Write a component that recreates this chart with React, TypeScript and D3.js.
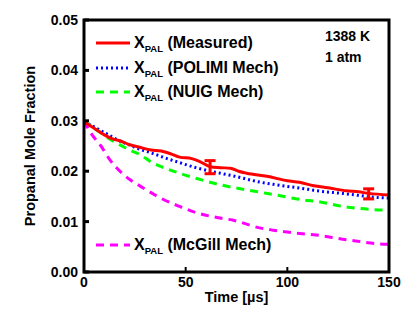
import * as d3 from "d3";

// measured propanal mole fraction
const measT = [0, 5, 10, 14, 18, 22, 27, 33, 38, 43, 47, 53, 57, 62, 67, 72, 76, 80, 90, 100, 106, 113, 120, 129, 135, 140, 150];
const measX = [0.0298, 0.0285, 0.0272, 0.0264, 0.026, 0.0253, 0.0248, 0.0242, 0.024, 0.0234, 0.0228, 0.0225, 0.0219, 0.0209, 0.0207, 0.0206, 0.02, 0.0196, 0.019, 0.0181, 0.0178, 0.0171, 0.0167, 0.0161, 0.0159, 0.0156, 0.0153];

const errT = [62, 140];
const errX = [0.0208, 0.0155];
const errD = [0.0013, 0.001];

const simT = [0, 4, 8, 13, 16, 23, 27, 34, 38, 47, 55, 67, 73, 87, 93, 110, 113, 129, 131, 149, 150];
const polimiX = [0.0299, 0.029, 0.0281, 0.027, 0.0263, 0.0251, 0.0244, 0.0235, 0.0229, 0.0217, 0.0207, 0.0196, 0.0191, 0.0178, 0.0174, 0.0164, 0.0162, 0.0155, 0.0154, 0.0147, 0.0147];
const nuigX = [0.0299, 0.0288, 0.0277, 0.0263, 0.0256, 0.0241, 0.0234, 0.0216, 0.0209, 0.0196, 0.0186, 0.0173, 0.0168, 0.0158, 0.0154, 0.0142, 0.0141, 0.0129, 0.0128, 0.0123, 0.0123];
const mcgillX = [0.0299, 0.0272, 0.0252, 0.0221, 0.0207, 0.0182, 0.0172, 0.0155, 0.0146, 0.013, 0.0118, 0.0107, 0.0103, 0.0087, 0.0083, 0.0075, 0.0074, 0.0064, 0.0063, 0.0055, 0.0055];

const xTicks = [0, 50, 100, 150];
const yTicks = [0, 0.01, 0.02, 0.03, 0.04, 0.05];

const legendNames = ["(Measured)", "(POLIMI Mech)", "(NUIG Mech)"];

const font = "'Liberation Sans', Arial, sans-serif";

export default function App() {
  const W = 410, H = 325;
  const left = 84, right = 389, top = 20, bottom = 272;
  const x = d3.scaleLinear().domain([0, 150]).range([left, right]);
  const y = d3.scaleLinear().domain([0, 0.05]).range([bottom, top]);

  const line = (ts: number[], vs: number[]) =>
    d3.line<number>().x((_, i) => x(ts[i])).y((v) => y(v)).curve(d3.curveMonotoneX)(vs) || "";

  const series = [
    { vs: polimiX, color: "#0000ff", dash: "2,3" },
    { vs: nuigX, color: "#00ff00", dash: "8,6" },
    { vs: mcgillX, color: "#ff00ff", dash: "8,6" },
  ];

  const legendStyle = [
    { color: "#ff0000", dash: "none" },
    { color: "#0000ff", dash: "2,3" },
    { color: "#00ff00", dash: "8,6" },
  ];
  const legendY = [43, 68, 92];

  const label = (ly: number, text: string) => (
    <text x={134} y={ly + 5} fontFamily={font} fontWeight="bold" fontSize={16}>
      X<tspan fontSize={9.5} dy={4}>PAL</tspan>
      <tspan dy={-4}>{" " + text}</tspan>
    </text>
  );

  return (
    <svg width={W} height={H} style={{ position: "absolute", left: 0, top: 0, background: "#fff" }}>
      <defs>
        <clipPath id="plot">
          <rect x={left} y={top} width={right - left} height={bottom - top} />
        </clipPath>
      </defs>
      <g clipPath="url(#plot)">
        {series.map((s, i) => (
          <path key={i} d={line(simT, s.vs)} fill="none" stroke={s.color} strokeWidth={3} strokeDasharray={s.dash} />
        ))}
        <path d={line(measT, measX)} fill="none" stroke="#ff0000" strokeWidth={3} />
        {errT.map((t, i) => (
          <g key={i} stroke="#ff0000" strokeWidth={3}>
            <line x1={x(t)} x2={x(t)} y1={y(errX[i] - errD[i])} y2={y(errX[i] + errD[i])} />
            <line x1={x(t) - 5.5} x2={x(t) + 5.5} y1={y(errX[i] - errD[i])} y2={y(errX[i] - errD[i])} />
            <line x1={x(t) - 5.5} x2={x(t) + 5.5} y1={y(errX[i] + errD[i])} y2={y(errX[i] + errD[i])} />
          </g>
        ))}
      </g>
      {/* frame */}
      <rect x={left} y={top} width={right - left} height={bottom - top} fill="none" stroke="#000" strokeWidth={3} />
      {yTicks.map((t) => (
        <g key={t}>
          <line x1={left} x2={left + 5} y1={y(t)} y2={y(t)} stroke="#000" strokeWidth={3} />
          <text x={left - 6} y={y(t) + 5} textAnchor="end" fontFamily={font} fontWeight="bold" fontSize={14}>
            {t.toFixed(2)}
          </text>
        </g>
      ))}
      {xTicks.map((t) => (
        <g key={t}>
          <line x1={x(t)} x2={x(t)} y1={bottom} y2={bottom - 5} stroke="#000" strokeWidth={2} />
          <text x={x(t)} y={bottom + 15} textAnchor="middle" fontFamily={font} fontWeight="bold" fontSize={14}>
            {t}
          </text>
        </g>
      ))}
      <text x={x(75)} y={302} textAnchor="middle" fontFamily={font} fontWeight="bold" fontSize={14.5}>
        Time [µs]
      </text>
      <text transform={`translate(35,${(top + bottom) / 2}) rotate(-90)`} textAnchor="middle" fontFamily={font} fontWeight="bold" fontSize={14.5}>
        Propanal Mole Fraction
      </text>
      {legendNames.map((n, i) => (
        <g key={n}>
          <line x1={96} x2={130} y1={legendY[i]} y2={legendY[i]} stroke={legendStyle[i].color} strokeWidth={3} strokeDasharray={legendStyle[i].dash} />
          {label(legendY[i], n)}
        </g>
      ))}
      <line x1={96} x2={130} y1={245} y2={245} stroke="#ff00ff" strokeWidth={3} strokeDasharray="8,6" />
      {label(245, "(McGill Mech)")}
      <text x={325} y={41} fontFamily={font} fontWeight="bold" fontSize={14}>1388 K</text>
      <text x={325} y={62} fontFamily={font} fontWeight="bold" fontSize={14}>1 atm</text>
    </svg>
  );
}
